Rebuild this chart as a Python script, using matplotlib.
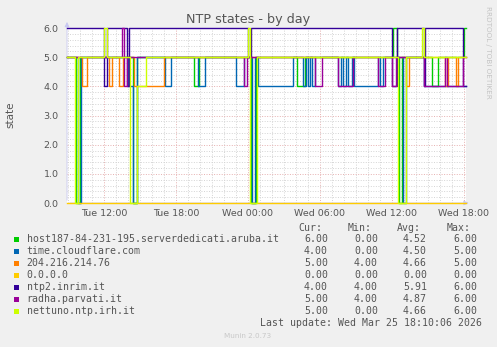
import matplotlib
matplotlib.use("Agg")
import matplotlib.pyplot as plt
import numpy as np
from matplotlib.patches import Rectangle

# ---------------- data (hours since Tue 00:00) ----------------
T_START, T_END = 8.92, 42.17

green_t = [8.92, 9.67, 10.0, 14.42, 14.75, 19.5, 19.92, 24.25, 24.67, 28.08, 28.75, 36.08, 36.42, 36.58, 36.83, 39.33, 39.83, 42.0]
green_v = [5, 0, 5, 0, 5, 4, 5, 0, 5, 4, 5, 6, 5, 0, 5, 4, 5, 6]

blue_t = [8.92, 9.83, 10.08, 14.0, 14.42, 14.75, 17.08, 17.58, 19.83, 20.42, 23.0, 23.67, 24.33, 24.58, 24.83, 27.75,
          28.58, 28.83, 29.0, 29.17, 29.33, 29.58, 31.5, 31.75, 31.92, 32.17, 32.33, 32.67, 32.83, 34.83, 35.0, 35.25,
          36.92, 37.17, 38.67]
blue_v = [5, 0, 5, 4, 0, 5, 4, 5, 4, 5, 4, 5, 0, 5, 4, 5,
          4, 5, 4, 5, 4, 5, 4, 5, 4, 5, 4, 5, 4, 5, 4, 5,
          0, 5, 4]

orange_t = [8.92, 10.17, 10.58, 12.42, 12.67, 13.25, 13.58, 14.5, 17.0, 37.17, 37.42, 40.42, 40.67, 41.33, 41.5]
orange_v = [5, 4, 5, 4, 5, 4, 5, 4, 5, 4, 5, 4, 5, 4, 5]

yellow_t = [8.92]
yellow_v = [0]

darkblue_t = [8.92, 12.0, 12.25, 13.92, 14.08, 24.0, 24.25, 36.0, 36.42, 38.67, 38.75, 41.92]
darkblue_v = [6, 4, 6, 4, 6, 5, 6, 4, 6, 4, 6, 4]

purple_t = [8.92, 13.5, 13.67, 13.92, 23.67, 23.92, 29.58, 30.17, 31.5, 32.75, 34.83, 35.42, 36.0, 36.33,
            38.67, 40.42, 40.58, 41.92]
purple_v = [5, 6, 4, 5, 4, 5, 4, 5, 4, 5, 4, 5, 4, 5,
            4, 5, 4, 5]

lime_t = [8.92, 9.58, 9.83, 12.0, 12.25, 14.17, 14.75, 15.5, 24.0, 24.17, 24.75, 36.5, 37.17, 38.5, 38.67]
lime_v = [5, 0, 5, 6, 5, 0, 4, 5, 6, 0, 5, 0, 5, 6, 5]

series_names = ["host187-84-231-195.serverdedicati.aruba.it", "time.cloudflare.com", "204.216.214.76",
                "0.0.0.0", "ntp2.inrim.it", "radha.parvati.it", "nettuno.ntp.irh.it"]
series_colors = ["#00CC00", "#0066B3", "#FF8000", "#FFCC00", "#330099", "#990099", "#CCFF00"]
cur_vals = [6.00, 4.00, 5.00, 0.00, 4.00, 5.00, 5.00]
min_vals = [0.00, 0.00, 4.00, 0.00, 4.00, 4.00, 0.00]
avg_vals = [4.52, 4.50, 4.66, 0.00, 5.91, 4.87, 4.66]
max_vals = [6.00, 5.00, 5.00, 0.00, 6.00, 6.00, 6.00]

xtick_pos = [12, 18, 24, 30, 36, 42]
xtick_labels = ["Tue 12:00", "Tue 18:00", "Wed 00:00", "Wed 06:00", "Wed 12:00", "Wed 18:00"]
ytick_pos = [0, 1, 2, 3, 4, 5, 6]

# ---------------- figure ----------------
W, H = 497, 347
fig = plt.figure(figsize=(W / 100, H / 100), dpi=100, facecolor="#F0F0F0")
ax = fig.add_axes([67 / W, 1 - 203 / H, 399 / W, 175 / H])
ax.set_facecolor("white")
ax.set_xlim(T_START, T_END)
ax.set_ylim(0, 6)
for s in ax.spines.values():
    s.set_visible(False)

dot = (0, (1, 1.6))
for h in range(9, 43):
    major = (h % 6 == 0)
    ax.axvline(h, color="#e6b0b0" if major else "#d4d4d4", lw=0.7, ls=dot, zorder=0)
for y in np.arange(0.2, 6.01, 0.2):
    major = abs(y - round(y)) < 1e-6
    ax.axhline(y, color="#e6b0b0" if major else "#d4d4d4", lw=0.7, ls=dot, zorder=0)

all_t = [green_t, blue_t, orange_t, yellow_t, darkblue_t, purple_t, lime_t]
all_v = [green_v, blue_v, orange_v, yellow_v, darkblue_v, purple_v, lime_v]
for t, v, c in zip(all_t, all_v, series_colors):
    ax.plot(list(t) + [T_END], list(v) + [v[-1]], drawstyle="steps-post", color=c, lw=1.0,
            clip_on=False, zorder=3)

txtc = "#555555"
ax.set_xticks(xtick_pos)
ax.set_xticklabels(xtick_labels)
ax.set_yticks(ytick_pos)
ax.set_yticklabels([f"{y:.1f}" for y in ytick_pos])
ax.tick_params(axis="both", length=0, labelsize=6.8, labelcolor=txtc)
ax.tick_params(axis="x", pad=4)
ax.tick_params(axis="y", pad=6)

# axes arrows
ax.annotate("", xy=(T_START, 6.3), xytext=(T_START, 0), xycoords="data",
            arrowprops=dict(arrowstyle="-|>", color="#c8c8f0", lw=0.6, mutation_scale=7),
            annotation_clip=False, zorder=1)
ax.annotate("", xy=(T_END + 0.45, 0), xytext=(T_START, 0), xycoords="data",
            arrowprops=dict(arrowstyle="-|>", color="#c8c8f0", lw=0.6, mutation_scale=7),
            annotation_clip=False, zorder=1)

def ftext(x, y, s, **kw):
    fig.text(x / W, 1 - y / H, s, **kw)

ftext(248, 19, "NTP states - by day", ha="center", va="center", fontsize=9.2, color=txtc)
ftext(10, 115, "state", ha="center", va="center", rotation=90, fontsize=7.5, color=txtc)
ftext(488, 52, "RRDTOOL / TOBI OETIKER", ha="center", va="center", rotation=270, fontsize=5.2, color="#c4c4c4")

mono = "DejaVu Sans Mono"
fs = 7.1
ftext(322, 228, "Cur:", ha="right", va="center", family=mono, fontsize=fs, color=txtc)
ftext(372, 228, "Min:", ha="right", va="center", family=mono, fontsize=fs, color=txtc)
ftext(421, 228, "Avg:", ha="right", va="center", family=mono, fontsize=fs, color=txtc)
ftext(471, 228, "Max:", ha="right", va="center", family=mono, fontsize=fs, color=txtc)

for i, name in enumerate(series_names):
    y = 239.5 + 12 * i
    fig.add_artist(Rectangle((14 / W, 1 - (y + 2.5) / H), 5 / W, 5 / H,
                             transform=fig.transFigure, color=series_colors[i], lw=0))
    ftext(26.5, y, name, ha="left", va="center", family=mono, fontsize=fs, color=txtc)
    ftext(328, y, f"{cur_vals[i]:.2f}", ha="right", va="center", family=mono, fontsize=fs, color=txtc)
    ftext(378, y, f"{min_vals[i]:.2f}", ha="right", va="center", family=mono, fontsize=fs, color=txtc)
    ftext(427, y, f"{avg_vals[i]:.2f}", ha="right", va="center", family=mono, fontsize=fs, color=txtc)
    ftext(477, y, f"{max_vals[i]:.2f}", ha="right", va="center", family=mono, fontsize=fs, color=txtc)

ftext(482.5, 323.5, "Last update: Wed Mar 25 18:10:06 2026", ha="right", va="center",
      family=mono, fontsize=fs, color=txtc)
ftext(248, 336, "Munin 2.0.73", ha="center", va="center", fontsize=5.2, color="#c8c8c8")

fig.savefig("out.png", dpi=100, facecolor=fig.get_facecolor())
